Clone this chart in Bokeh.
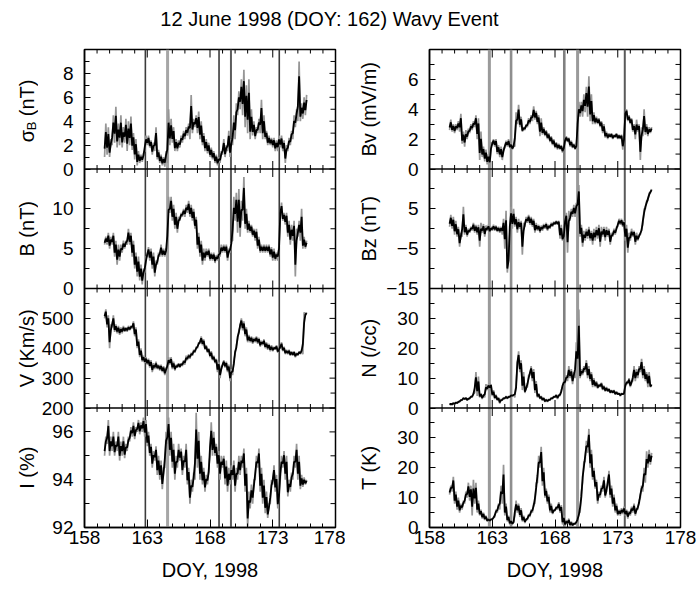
import numpy as np
from bokeh.plotting import figure
from bokeh.models import Range1d, FixedTicker, Span, Label
from bokeh.layouts import column, row
from bokeh.embed import file_html
from bokeh.resources import INLINE

FONT = "Liberation Sans"
TICK_PX = "19px"
LABEL_PX = "20px"

TITLE = "12 June 1998 (DOY: 162) Wavy Event"
X_LABEL = "DOY, 1998"
X_RANGE = (158, 178)
X_TICKS = [158, 163, 168, 173, 178]
X_MINOR = list(range(158, 179))

# sample times (DOY), every 0.2 day
DOY = np.round(159.6 + 0.2 * np.arange(81), 1)

# ---- left column -------------------------------------------------------
sigma_lo = [1.0, 1.2, 1.0, 2.0, 2.2, 1.8, 2.0, 1.8, 2.2, 1.5,
            2.0, 1.6, 0.8, 0.3, 0.5, 0.6, 1.5, 2.0, 1.8, 1.2,
            1.5, 0.8, 0.5, 0.3, 0.2, 0.5, 2.0, 2.2, 1.5, 1.5,
            1.8, 2.2, 2.5, 2.8, 2.5, 3.0, 3.5, 3.0, 2.5, 2.0,
            1.5, 1.3, 1.0, 0.8, 0.5, 0.3, 0.5, 1.2, 1.0, 1.5,
            1.0, 2.0, 2.5, 4.5, 5.0, 4.5, 3.5, 3.0, 2.5, 2.8,
            2.5, 3.0, 3.0, 2.5, 2.5, 2.0, 2.0, 1.8, 1.5, 1.5,
            1.8, 1.5, 0.5, 1.5, 2.0, 2.5, 3.5, 4.0, 4.0, 4.2,
            4.5]
sigma_hi = [3.8, 3.5, 2.5, 4.5, 5.2, 3.8, 4.5, 3.5, 4.2, 4.0,
            4.4, 3.0, 2.5, 1.5, 1.2, 1.3, 2.8, 2.8, 2.4, 2.2,
            3.5, 1.6, 1.2, 1.0, 1.5, 5.0, 4.2, 3.5, 2.5, 2.4,
            2.8, 3.2, 3.5, 3.8, 6.2, 4.2, 4.5, 4.8, 4.0, 3.0,
            2.5, 2.2, 1.8, 1.5, 1.2, 1.0, 1.5, 2.5, 2.0, 3.2,
            2.5, 4.5, 5.5, 6.5, 7.5, 8.3, 7.0, 7.5, 5.0, 4.0,
            3.5, 4.2, 5.8, 4.5, 3.2, 2.8, 2.6, 2.6, 2.4, 2.8,
            2.8, 2.4, 2.0, 2.6, 3.2, 4.5, 5.0, 9.0, 5.5, 6.0,
            6.2]
b_lo = [5.5, 5.5, 5.0, 5.5, 4.0, 3.0, 3.5, 4.5, 5.0, 5.5,
        5.5, 4.0, 2.5, 1.5, 1.0, 0.5, 2.0, 4.0, 3.5, 2.5,
        1.5, 3.0, 4.0, 4.0, 4.0, 5.0, 9.5, 8.5, 7.5, 7.0,
        8.5, 9.0, 9.0, 9.5, 9.0, 8.5, 7.5, 5.0, 4.0, 3.0,
        3.5, 4.0, 3.5, 3.5, 3.2, 3.5, 4.0, 4.5, 4.5, 3.5,
        4.5, 6.0, 8.5, 7.0, 6.5, 8.5, 7.5, 7.0, 7.0, 6.5,
        6.0, 5.0, 4.5, 4.5, 4.5, 4.5, 4.0, 3.5, 3.5, 3.5,
        9.0, 8.5, 8.0, 6.5, 5.5, 6.0, 1.5, 6.5, 6.0, 5.0,
        5.0]
b_hi = [6.5, 7.0, 6.5, 7.0, 6.0, 5.5, 5.5, 6.0, 6.0, 7.5,
        7.0, 6.0, 4.5, 4.0, 3.0, 2.5, 4.0, 5.2, 5.0, 4.5,
        3.5, 4.5, 5.5, 5.0, 5.0, 11.5, 11.5, 10.5, 9.5, 9.0,
        9.5, 10.0, 10.5, 11.0, 10.5, 10.0, 9.0, 7.0, 6.0, 5.0,
        5.0, 5.0, 4.5, 4.5, 4.2, 4.5, 5.5, 5.5, 5.5, 5.0,
        6.0, 11.5, 12.0, 12.5, 11.0, 14.0, 10.0, 8.5, 8.0, 7.5,
        7.5, 6.5, 5.5, 5.5, 5.5, 5.5, 5.2, 5.0, 4.5, 5.5,
        10.8, 9.5, 9.5, 8.5, 8.0, 8.5, 7.5, 8.5, 10.0, 6.5,
        6.0]
v_lo = [500, 470, 400, 470, 455, 450, 445, 450, 455, 455,
        460, 465, 440, 400, 370, 355, 350, 345, 335, 320,
        330, 330, 325, 320, 310, 330, 345, 330, 325, 335,
        335, 340, 345, 360, 365, 375, 385, 400, 415, 410,
        395, 385, 370, 360, 350, 320, 300, 340, 335, 320,
        290, 310, 380, 430, 470, 460, 440, 420, 420, 415,
        420, 415, 405, 410, 400, 395, 390, 390, 395, 385,
        400, 390, 380, 380, 375, 375, 370, 375, 380, 380,
        510]
v_hi = [530, 510, 480, 510, 480, 475, 470, 475, 470, 475,
        475, 490, 470, 430, 400, 375, 370, 365, 360, 350,
        355, 345, 345, 340, 335, 370, 370, 355, 345, 350,
        350, 360, 375, 380, 385, 395, 405, 420, 440, 430,
        410, 400, 390, 375, 365, 355, 340, 360, 355, 345,
        330, 360, 410, 460, 500, 490, 470, 445, 440, 435,
        440, 435, 425, 430, 420, 415, 410, 405, 410, 400,
        420, 405, 395, 395, 390, 390, 385, 390, 395, 520,
        520]
i_lo = [95.0, 95.5, 95.0, 95.2, 95.0, 95.2, 94.8, 95.0, 94.9, 95.2,
        95.6, 95.8, 95.7, 96.0, 95.9, 96.0, 95.8, 95.4, 95.0, 94.5,
        94.8, 94.2, 94.0, 93.6, 94.5, 95.5, 95.0, 94.5, 94.0, 94.5,
        94.8, 94.2, 94.5, 93.8, 93.0, 93.5, 94.0, 94.5, 94.0, 93.8,
        93.5, 93.8, 95.0, 95.0, 95.0, 94.5, 94.0, 94.5, 93.8, 93.5,
        93.8, 94.0, 93.5, 94.0, 94.2, 94.5, 93.5, 92.0, 92.8, 93.0,
        94.0, 94.5, 93.5, 93.0, 92.6, 92.4, 93.0, 93.8, 93.5, 92.8,
        94.0, 94.5, 94.0, 93.3, 93.5, 94.0, 94.5, 94.0, 93.6, 93.7,
        93.8]
i_hi = [95.8, 96.5, 95.8, 96.0, 95.6, 96.0, 95.6, 95.8, 95.5, 95.8,
        96.2, 96.4, 96.2, 96.5, 96.4, 96.6, 96.5, 96.0, 95.5, 95.2,
        95.4, 95.0, 94.8, 94.5, 96.0, 96.6, 96.0, 95.5, 95.0, 95.5,
        95.3, 95.0, 95.5, 94.5, 94.0, 94.3, 96.8, 96.0, 95.0, 94.5,
        94.2, 94.5, 96.4, 96.0, 95.5, 95.2, 95.0, 95.0, 94.8, 94.5,
        94.6, 94.8, 94.5, 95.0, 95.0, 95.3, 94.5, 93.5, 93.8, 94.0,
        95.0, 95.3, 94.5, 94.0, 93.5, 93.0, 94.0, 94.6, 94.2, 93.5,
        95.0, 95.2, 95.0, 94.0, 94.3, 95.0, 95.5, 95.0, 94.2, 94.1,
        94.0]

# ---- right column ------------------------------------------------------
bv_lo = [2.6, 2.5, 2.4, 2.6, 2.5, 1.7, 1.5, 2.0, 2.4, 2.6,
         2.8, 2.0, 0.6, 0.8, 0.5, 0.3, 0.0, 1.6, 1.5, 1.0,
         0.8, 0.6, 1.4, 1.5, 1.4, 1.3, 1.5, 3.0, 2.8, 2.5,
         2.6, 2.8, 3.0, 3.2, 3.3, 3.0, 2.2, 2.3, 2.2, 2.0,
         1.8, 1.6, 1.4, 1.3, 1.3, 1.1, 1.8, 1.8, 1.5, 1.4,
         1.3, 2.5, 3.5, 3.5, 3.8, 3.5, 3.2, 3.0, 3.0, 3.0,
         2.8, 2.4, 2.1, 2.0, 2.1, 2.0, 2.1, 2.0, 2.0, 1.3,
         3.6, 3.2, 3.0, 2.5, 2.0, 2.5, 0.6, 2.2, 2.3, 2.2,
         2.4]
bv_hi = [3.3, 3.0, 3.0, 3.2, 3.7, 2.5, 2.6, 2.7, 3.0, 3.2,
         3.6, 3.4, 2.5, 1.5, 1.3, 1.0, 1.8, 2.0, 2.0, 1.6,
         1.5, 1.4, 1.9, 2.0, 1.7, 1.6, 3.8, 4.3, 3.5, 2.8,
         3.0, 3.4, 3.6, 4.2, 3.9, 3.6, 3.4, 2.8, 2.6, 2.4,
         2.2, 2.0, 1.8, 1.7, 1.6, 1.5, 2.2, 2.1, 1.9, 1.7,
         1.6, 4.5, 4.5, 5.0, 5.5, 6.2, 5.0, 3.8, 3.5, 3.4,
         3.2, 3.0, 2.5, 2.4, 2.4, 2.3, 2.4, 2.3, 2.3, 2.2,
         4.0, 3.6, 3.4, 3.0, 3.3, 3.0, 2.8, 4.0, 3.0, 2.8,
         2.8]
bz_lo = [0.5, 0.0, -1.5, -2.0, -4.5, -2.0, -1.5, -2.0, -1.0, -0.5,
         -1.0, -1.5, -4.5, -1.0, -2.0, -0.5, -1.0, -0.5, -0.5, -0.8,
         -1.0, -1.5, -5.0, -11.0, -1.0, 0.0, 0.5, -1.0, 0.0, -6.5,
         0.5, 1.5, 1.0, 0.5, -1.0, -0.5, -1.0, -0.5, 0.0, -0.5,
         0.0, 0.5, 1.0, 1.0, -2.5, -3.0, 1.0, -6.0, 2.0, 3.0,
         3.0, 4.5, -2.0, -4.5, -3.0, -2.5, -3.0, -4.0, -3.0, -2.5,
         -4.5, -2.0, -3.0, -2.0, -4.0, -2.0, -1.5, 0.5, 1.0, 0.5,
         -3.0, -6.0, -3.0, -2.0, -4.0, -3.0, -1.5, 1.0, 5.0, 7.0,
         9.0]
bz_hi = [3.5, 3.0, 2.0, 0.5, -1.0, 5.5, 1.0, 0.0, 0.5, 1.5,
         1.0, 1.0, 1.5, 1.2, 0.8, 1.0, 0.5, 1.0, 0.8, 0.5,
         0.5, 2.5, 4.5, -7.0, 5.5, 5.0, 3.0, 2.5, 2.0, 1.5,
         3.0, 3.5, 3.0, 2.5, 1.5, 1.0, 0.8, 1.2, 1.5, 1.0,
         1.5, 1.8, 2.0, 2.0, 1.0, -1.5, 4.0, 4.5, 5.0, 6.0,
         6.5, 11.0, 1.0, -0.5, 0.0, 0.5, -0.5, 0.0, 0.5, 1.0,
         0.5, 0.5, 0.5, 0.0, -1.0, 0.0, 0.5, 2.5, 2.5, 2.0,
         1.0, -1.0, 0.0, -0.5, -1.0, -1.5, 0.0, 5.0, 7.0, 9.0,
         10.0]
n_lo = [1.0, 1.0, 1.2, 1.5, 2.0, 2.5, 2.8, 2.5, 3.0, 3.5,
        5.0, 4.0, 3.5, 3.0, 3.5, 6.0, 6.5, 4.0, 3.0, 2.5,
        1.5, 2.5, 3.0, 3.0, 3.5, 4.0, 3.5, 14.0, 12.0, 6.0,
        5.0, 7.0, 11.0, 9.0, 5.0, 3.5, 3.0, 2.5, 2.0, 2.0,
        2.5, 3.0, 3.5, 3.0, 4.0, 7.0, 8.0, 9.0, 10.0, 8.0,
        10.0, 11.0, 10.0, 11.0, 12.0, 10.0, 9.0, 7.0, 7.0, 6.5,
        7.0, 6.0, 5.5, 5.5, 5.0, 5.0, 4.5, 4.5, 4.0, 4.5,
        7.0, 8.0, 7.0, 9.0, 9.0, 10.0, 12.0, 10.0, 9.0, 7.0,
        7.0]
n_hi = [1.5, 1.8, 2.0, 2.2, 2.8, 3.5, 3.5, 3.3, 4.0, 5.0,
        12.0, 10.5, 5.0, 4.5, 8.0, 8.0, 8.0, 6.0, 4.5, 3.5,
        3.0, 3.5, 4.0, 4.0, 4.5, 4.5, 8.0, 19.0, 16.0, 12.0,
        7.0, 11.0, 14.0, 13.0, 9.0, 5.0, 4.0, 3.5, 3.0, 3.0,
        3.5, 4.0, 4.5, 4.5, 6.0, 9.0, 11.0, 14.0, 13.0, 12.0,
        22.0, 33.0, 13.0, 14.0, 16.0, 14.0, 12.0, 10.0, 9.0, 8.0,
        8.5, 7.5, 7.0, 6.5, 6.0, 6.0, 5.5, 5.0, 5.0, 5.0,
        9.0, 10.0, 9.0, 14.0, 13.0, 14.0, 16.5, 14.0, 12.0, 12.0,
        8.0]
t_lo = [11.0, 12.0, 8.0, 6.0, 5.0, 6.0, 8.0, 10.0, 9.0, 4.0,
        8.0, 5.0, 4.0, 3.0, 2.5, 2.0, 2.0, 2.5, 3.5, 5.0,
        6.0, 8.0, 4.0, 2.0, 1.0, 1.0, 4.0, 5.0, 3.5, 2.0,
        1.5, 2.5, 3.5, 5.0, 8.0, 15.0, 20.0, 14.0, 10.0, 8.0,
        5.0, 4.5, 5.5, 6.0, 5.0, 1.0, 0.5, 1.0, 0.5, 0.5,
        1.0, 2.0, 5.0, 15.0, 22.0, 25.0, 20.0, 16.0, 13.0, 8.0,
        10.0, 12.0, 10.0, 14.0, 10.0, 7.0, 5.0, 4.0, 4.0, 4.5,
        4.0, 3.0, 4.0, 5.0, 4.0, 6.0, 10.0, 12.0, 15.0, 20.0,
        21.0]
t_hi = [14.0, 17.0, 12.0, 10.0, 8.0, 9.0, 12.0, 15.0, 14.0, 16.0,
        15.0, 9.0, 6.0, 5.0, 4.0, 3.0, 3.0, 3.5, 6.0, 8.0,
        14.0, 21.0, 8.0, 4.0, 2.5, 2.0, 9.0, 8.0, 6.5, 4.0,
        3.0, 4.5, 6.0, 8.0, 15.0, 24.0, 27.0, 20.0, 13.0, 11.0,
        8.0, 6.0, 7.0, 8.5, 7.5, 4.0, 2.5, 3.0, 2.0, 1.5,
        2.0, 5.0, 12.0, 22.0, 29.0, 33.0, 26.0, 20.0, 16.0, 12.0,
        14.0, 17.0, 13.0, 19.0, 14.0, 11.0, 8.0, 6.0, 6.5, 7.0,
        6.0, 5.5, 7.0, 8.0, 6.5, 9.0, 14.0, 20.0, 25.5, 26.0,
        25.0]

# event markers (DOY) drawn as vertical lines in each column
EVENTS_LEFT = [162.85, 164.62, 168.72, 169.67, 173.52]
EVENTS_RIGHT = [162.77, 164.50, 168.74, 169.80, 173.56]

# panels, top to bottom
LEFT_PANELS = [
    dict(label="σB (nT)", lo=sigma_lo, hi=sigma_hi, rng=(0, 10),
         major=[0, 2, 4, 6, 8], labels=["0", "2", "4", "6", "8"], minor=[1, 3, 5, 7, 9]),
    dict(label="B (nT)", lo=b_lo, hi=b_hi, rng=(0, 15),
         major=[0, 5, 10], labels=["0", "5", "10"], minor=[2.5, 7.5, 12.5]),
    dict(label="V (Km/s)", lo=v_lo, hi=v_hi, rng=(200, 600),
         major=[200, 300, 400, 500], labels=["200", "300", "400", "500"], minor=[250, 350, 450, 550]),
    dict(label="I (%)", lo=i_lo, hi=i_hi, rng=(92, 97),
         major=[92, 94, 96], labels=["92", "94", "96"], minor=[93, 95]),
]
RIGHT_PANELS = [
    dict(label="Bv (mV/m)", lo=bv_lo, hi=bv_hi, rng=(0, 8),
         major=[0, 2, 4, 6], labels=["0", "2", "4", "6"], minor=[1, 3, 5, 7]),
    dict(label="Bz (nT)", lo=bz_lo, hi=bz_hi, rng=(-15, 15),
         major=[-15, -5, 5], labels=["\u221215", "\u22125", "5"], minor=[-10, 0, 10]),
    dict(label="N (/cc)", lo=n_lo, hi=n_hi, rng=(0, 40),
         major=[0, 10, 20, 30], labels=["0", "10", "20", "30"], minor=[5, 15, 25, 35]),
    dict(label="T (K)", lo=t_lo, hi=t_hi, rng=(0, 40),
         major=[0, 10, 20, 30], labels=["0", "10", "20", "30"], minor=[5, 15, 25, 35]),
]

COL_H = 560
TOP_B = 19
BOT_B = 63
AXIS_B = 45      # left border of each column figure (tick labels)
FRAME_W = 252


def zigzag(lo, hi):
    lo = np.asarray(lo, float)
    hi = np.asarray(hi, float)
    xs = np.empty(2 * len(DOY))
    xs[0::2] = DOY
    xs[1::2] = DOY + 0.1
    ys = np.empty_like(xs)
    ys[0::2] = lo
    ys[1::2] = hi
    d = hi - lo
    yc = np.empty_like(xs)
    yc[0::2] = lo + 0.25 * d
    yc[1::2] = hi - 0.25 * d
    return xs, ys, yc


def style_axis(ax, standoff):
    ax.axis_line_color = "black"
    ax.axis_line_width = 1.5
    ax.major_tick_line_color = "black"
    ax.minor_tick_line_color = "black"
    ax.major_tick_out = 0
    ax.minor_tick_out = 0
    ax.major_label_text_font = FONT
    ax.major_label_text_color = "black"
    ax.major_label_text_font_size = TICK_PX
    ax.major_label_standoff = standoff


def build_label_fig(panels, width, xc):
    f = figure(width=width, height=COL_H, x_range=Range1d(0, width), y_range=Range1d(0, 4),
               min_border_left=0, min_border_right=0, min_border_top=TOP_B, min_border_bottom=BOT_B,
               toolbar_location=None, output_backend="svg",
               x_axis_location=None, y_axis_location=None)
    f.grid.visible = False
    f.outline_line_color = None
    n = len(panels)
    for i, pan in enumerate(panels):
        k = n - 1 - i
        common = dict(x=xc, y=k + 0.5, angle=np.pi / 2, text_font=FONT,
                      text_color="black", text_baseline="middle")
        text = pan["label"]
        if text.startswith("σB"):
            f.add_layout(Label(text="σ", text_font_size=LABEL_PX, text_align="left",
                               y_offset=-33, **common))
            f.add_layout(Label(text="B", text_font_size="13px", text_align="left",
                               x_offset=5, y_offset=-21, **common))
            f.add_layout(Label(text="(nT)", text_font_size=LABEL_PX, text_align="left",
                               y_offset=-7, **common))
        else:
            f.add_layout(Label(text=text, text_font_size=LABEL_PX, text_align="center", **common))
    return f


def build_column(panels, events, ev_colors, ev_widths, border_right):
    width = AXIS_B + FRAME_W + border_right
    p = figure(width=width, height=COL_H, x_range=Range1d(*X_RANGE), y_range=Range1d(0, 4),
               min_border_left=AXIS_B, min_border_right=border_right,
               min_border_top=TOP_B, min_border_bottom=BOT_B,
               toolbar_location=None, output_backend="svg")
    p.grid.visible = False
    p.outline_line_color = "black"
    p.outline_line_width = 1.5
    p.background_fill_color = "white"
    p.border_fill_color = "white"

    n = len(panels)
    majors, minors, overrides = [], [], {}
    for i, pan in enumerate(panels):
        k = n - 1 - i
        lo, hi = pan["rng"]
        for v, lab in zip(pan["major"], pan["labels"]):
            pos = round(k + (v - lo) / (hi - lo), 6)
            majors.append(pos)
            overrides[pos] = lab
        for v in pan["minor"]:
            minors.append(round(k + (v - lo) / (hi - lo), 6))

    yl = p.yaxis[0]
    yl.ticker = FixedTicker(ticks=majors, minor_ticks=minors + [4.0])
    yl.major_label_overrides = overrides
    style_axis(yl, 11)
    yl.major_tick_in = 6
    yl.minor_tick_in = 5

    xb = p.xaxis[0]
    xb.ticker = FixedTicker(ticks=X_TICKS, minor_ticks=X_MINOR)
    style_axis(xb, 3)
    xb.major_tick_in = 8
    xb.minor_tick_in = 4
    xb.axis_label = X_LABEL
    xb.axis_label_text_font = FONT
    xb.axis_label_text_font_size = LABEL_PX
    xb.axis_label_text_font_style = "normal"
    xb.axis_label_text_color = "black"
    xb.axis_label_standoff = 12

    # event lines
    for t, c, w in zip(events, ev_colors, ev_widths):
        p.add_layout(Span(location=t, dimension="height", line_color=c, line_width=w, level="underlay"))

    # panel separators
    for k in range(1, n):
        p.add_layout(Span(location=k, dimension="width", line_color="black", line_width=1.5))

    # inward ticks on the separators (both directions) and on the top edge
    bx, by, bs = [], [], []
    for k in range(1, n + 1):
        for x in range(X_RANGE[0] + 1, X_RANGE[1]):
            bx.append(x)
            by.append(k)
            bs.append(16 if x in X_TICKS else 8)
    p.scatter(x=bx, y=by, size=bs, marker="dash", angle=np.pi / 2,
              line_color="black", line_width=1)
    # inward ticks on the right edge
    ry = majors + minors + [4.0]
    rs = [12] * len(majors) + [10] * (len(minors) + 1)
    p.scatter(x=[X_RANGE[1]] * len(ry), y=ry, size=rs, marker="dash",
              line_color="black", line_width=1)

    # data
    for i, pan in enumerate(panels):
        k = n - 1 - i
        lo, hi = pan["rng"]
        sp = p.subplot(x_source=p.x_range, y_source=Range1d(lo, hi),
                       x_target=p.x_range, y_target=Range1d(k, k + 1))
        xs, ys, yc = zigzag(pan["lo"], pan["hi"])
        sp.line(x=xs, y=ys, line_color="#969696", line_width=1.7)
        sp.line(x=xs, y=yc, line_color="black", line_width=1.8)
    return p


LAB_W = 83 - AXIS_B                         # width of the y-label strip
left_lab = build_label_fig(LEFT_PANELS, LAB_W, 26)
left = build_column(LEFT_PANELS, EVENTS_LEFT,
                    ["#3c3c3c", "#a6a6a6", "#3c3c3c", "#5c5c5c", "#3c3c3c"],
                    [1.6, 3.0, 1.6, 2.0, 1.6], 10)
right_lab = build_label_fig(RIGHT_PANELS, LAB_W, 368 - (83 + FRAME_W + 10))
right = build_column(RIGHT_PANELS, EVENTS_RIGHT,
                     ["#9a9a9a", "#8e8e8e", "#808080", "#9a9a9a", "#5a5a5a"],
                     [3.0, 2.6, 2.6, 3.0, 2.0], 17)

tf = figure(width=697, height=30, x_range=Range1d(0, 697), y_range=Range1d(0, 30),
            toolbar_location=None, output_backend="svg", min_border=0,
            x_axis_location=None, y_axis_location=None)
tf.grid.visible = False
tf.outline_line_color = None
tf.add_layout(Label(x=329, y=12, text=TITLE, text_align="center", text_baseline="middle",
                    text_font=FONT, text_font_size=LABEL_PX, text_color="black"))

layout = column(tf, row(left_lab, left, right_lab, right))
open("out.html", "w").write(file_html(layout, INLINE))
